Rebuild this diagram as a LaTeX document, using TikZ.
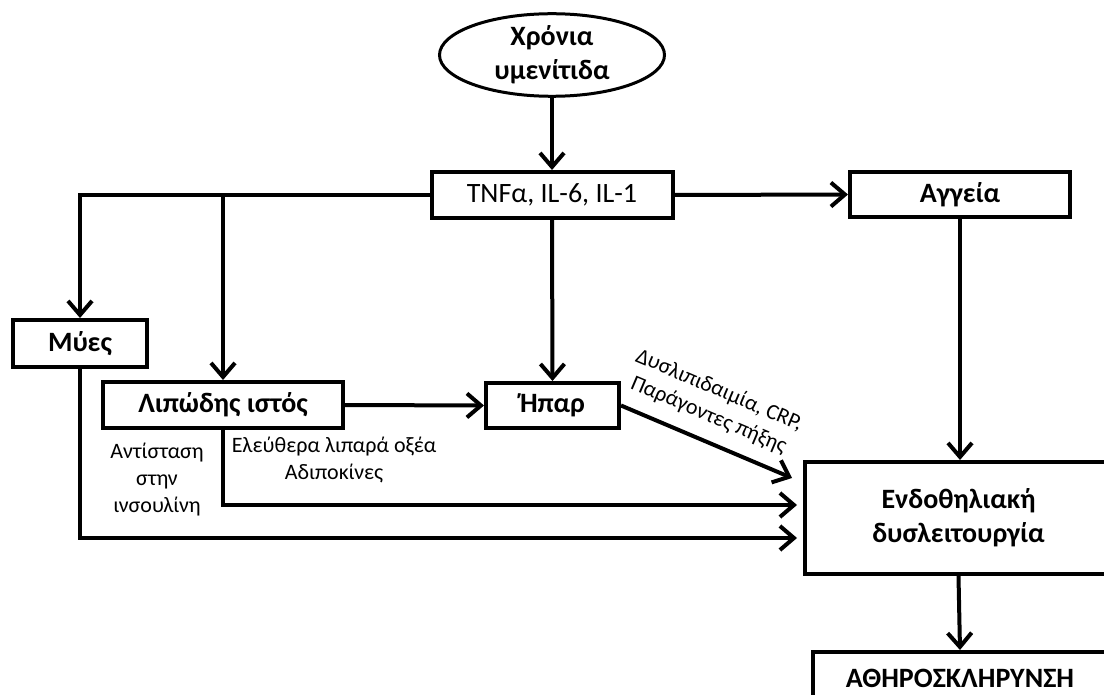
\documentclass[tikz,border=0pt]{standalone}
\usepackage{fontspec}
\setmainfont{Carlito}
\usetikzlibrary{arrows.meta,shapes.geometric,calc}

\tikzset{
  box/.style={draw, line width=4pt, line join=miter, rectangle, inner sep=0pt,
              align=center, font=\fontsize{28}{34}\selectfont\bfseries},
  oval/.style={draw, line width=3pt, ellipse, inner sep=0pt, align=center,
               font=\fontsize{28}{34}\selectfont\bfseries},
  note/.style={align=center, inner sep=0pt, font=\fontsize{22}{27}\selectfont},
  arr/.style={line width=4pt, -{Straight Barb[length=14pt,width=24pt]}},
  link/.style={line width=4pt}
}

\begin{document}
\begin{tikzpicture}[x=1pt,y=-1pt]
  \useasboundingbox (0,0) rectangle (1104,695);
  \clip (0,0) rectangle (1104,695);

  % nodes
  \node[oval, minimum width=225pt, minimum height=80pt] (chron) at (552,55) {Χρόνια\\υμενίτιδα};
  \node[box, font=\fontsize{28}{34}\selectfont, minimum width=241pt, minimum height=46pt] (tnf) at (552,195) {TNFα, IL-6, IL-1};
  \node[box, minimum width=220pt, minimum height=45pt] (aggeia) at (960,194.5) {Αγγεία};
  \node[box, minimum width=134pt, minimum height=47pt] (mues) at (80,343.5) {Μύες};
  \node[box, minimum width=240pt, minimum height=46pt] (lip) at (223,405) {Λιπώδης ιστός};
  \node[box, minimum width=133pt, minimum height=45pt] (hpar) at (552.5,405.5) {Ήπαρ};
  \node[box, minimum width=307pt, minimum height=112pt] (endo) at (958.5,518) {Ενδοθηλιακή\\δυσλειτουργία};
  \node[box, minimum width=295pt, minimum height=52pt] (ath) at (960,678) {ΑΘΗΡΟΣΚΛΗΡΥΝΣΗ};

  % labels
  \node[note] (ins) at (157,480) {Αντίσταση\\στην\\ινσουλίνη};
  \node[note] (ffa) at (334,460) {Ελεύθερα λιπαρά οξέα\\Αδιποκίνες};
  \node[note, rotate=-23] (dys) at (714,403) {Δυσλιπιδαιμία, CRP,\\Παράγοντες πήξης};

  % connectors
  \coordinate (hin) at (792,478);
  \draw[arr] (chron.south) -- (tnf.north);
  \draw[arr] (tnf.west) -| (mues.north);
  \draw[arr] (lip.north |- tnf.west) -- (lip.north);
  \draw[arr] (tnf.east) -- (aggeia.west);
  \draw[arr] (tnf.south) -- (hpar.north);
  \draw[arr] (lip.east) -- (hpar.west);
  \draw[arr] (aggeia.south) -- (aggeia.south |- endo.north);
  \draw[arr] (hpar.east) -- (hin);
  \draw[arr, shorten >=6pt] (lip.south) |- ($(endo.west)+(0,-13)$);
  \draw[arr, shorten >=6pt] (mues.south) |- ($(endo.west)+(0,20)$);
  \draw[arr] (endo.south) -- (ath.north);
\end{tikzpicture}
\end{document}
